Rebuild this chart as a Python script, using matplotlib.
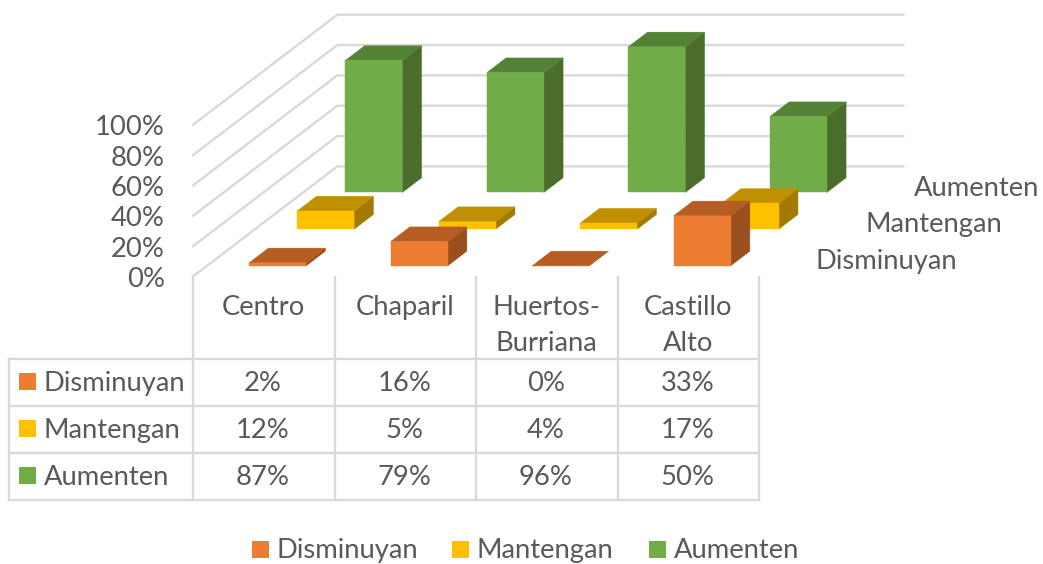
import matplotlib
matplotlib.use('Agg')
import matplotlib.pyplot as plt
from matplotlib.patches import Rectangle

plt.rcParams['font.family'] = ['Lato', 'DejaVu Sans']

categories = ['Centro', 'Chaparil', 'Huertos-\nBurriana', 'Castillo\nAlto']
series_names = ['Disminuyan', 'Mantengan', 'Aumenten']
disminuyan = [2, 16, 0, 33]
mantengan = [12, 5, 4, 17]
aumenten = [87, 79, 96, 50]
y_ticks = [0, 20, 40, 60, 80, 100]

series_values = [disminuyan, mantengan, aumenten]
front_colors = ['#ED7D31', '#FFC000', '#70AD47']
top_colors = ['#B55D23', '#C09000', '#548235']
side_colors = ['#9A4F1E', '#A37A00', '#4A6D2B']
grid_color = '#D9D9D9'
text_color = '#595959'
font_size = 19.7

# pixel geometry of the oblique projection
x_origin, y_origin = 193, 276.5
cat_step = 141.5
depth_dx, depth_dy = 48.1, 36.7
value_scale = 1.517
bar_offset, bar_width = 0.298, 0.403
depth_offset, depth_size = 0.29, 0.40


def project(cat, depth, value):
    x = x_origin + cat * cat_step + depth * depth_dx
    y = y_origin - depth * depth_dy - value * value_scale
    return x, y


def draw_face(ax, corners, color):
    points = [project(*c) for c in corners]
    ax.fill([p[0] for p in points], [p[1] for p in points],
            color=color, lw=0.3, zorder=3)


def draw_bar(ax, cat, depth, value, front, top, side):
    c0 = cat + bar_offset
    c1 = c0 + bar_width
    d0 = depth + depth_offset
    d1 = d0 + depth_size
    draw_face(ax, [(c1, d0, 0), (c1, d1, 0), (c1, d1, value), (c1, d0, value)], side)
    draw_face(ax, [(c0, d0, value), (c1, d0, value), (c1, d1, value), (c0, d1, value)], top)
    draw_face(ax, [(c0, d0, 0), (c1, d0, 0), (c1, d0, value), (c0, d0, value)], front)


fig = plt.figure(figsize=(10.43, 5.64), dpi=100)
ax = fig.add_axes([0, 0, 1, 1])
ax.set_xlim(0, 1043)
ax.set_ylim(564, 0)
ax.axis('off')

# walls
n_cat = len(categories)
n_ser = len(series_names)
for tick in y_ticks:
    x0, y0 = project(0, 0, tick)
    x1, y1 = project(0, n_ser, tick)
    x2, y2 = project(n_cat, n_ser, tick)
    ax.plot([x0, x1, x2], [y0, y1, y2], color=grid_color, lw=1.7, zorder=1,
            solid_joinstyle='miter')
    ax.text(165, y0 + 0.5, f'{tick}%', ha='right', va='center_baseline',
            fontsize=font_size, color=text_color)

# bars, back to front
for s in range(n_ser - 1, -1, -1):
    for cat in range(n_cat):
        draw_bar(ax, cat, s, series_values[s][cat],
                 front_colors[s], top_colors[s], side_colors[s])

# depth axis labels
for name, x_right, y in zip(series_names, [957, 1002, 1039], [259, 222, 186]):
    ax.text(x_right, y, name, ha='right', va='center_baseline',
            fontsize=font_size, color=text_color)

# data table
col_x = [x_origin + i * cat_step for i in range(n_cat + 1)]
row_y = [359, 406, 453, 500]
table_left = 9
for x in col_x:
    ax.plot([x, x], [y_origin, row_y[-1]], color=grid_color, lw=1.7, zorder=1)
ax.plot([table_left, table_left], [row_y[0], row_y[-1]], color=grid_color, lw=1.7, zorder=1)
for y in row_y:
    ax.plot([table_left, col_x[-1]], [y, y], color=grid_color, lw=1.7, zorder=1)

for i, label in enumerate(categories):
    center = (col_x[i] + col_x[i + 1]) / 2
    for j, line in enumerate(label.split('\n')):
        ax.text(center, 305 + j * 36, line, ha='center', va='center_baseline',
                fontsize=font_size, color=text_color)

for s, name in enumerate(series_names):
    y_mid = (row_y[s] + row_y[s + 1]) / 2
    ax.add_patch(Rectangle((19, y_mid - 1 - 8.5), 17, 17, color=front_colors[s], lw=0))
    ax.text(44, y_mid - 1.5, name, ha='left', va='center_baseline',
            fontsize=font_size, color=text_color)
    for i in range(n_cat):
        center = (col_x[i] + col_x[i + 1]) / 2
        ax.text(center - 1, y_mid - 1.5, f'{series_values[s][i]}%', ha='center', va='center_baseline',
                fontsize=font_size, color=text_color)

# legend
for name, color, x_box in zip(series_names, front_colors, [252, 452, 649]):
    ax.add_patch(Rectangle((x_box, 541), 17, 17, color=color, lw=0))
    ax.text(x_box + 24.5, 548, name, ha='left', va='center_baseline',
            fontsize=font_size, color=text_color)

fig.savefig('out.png', dpi=100)
